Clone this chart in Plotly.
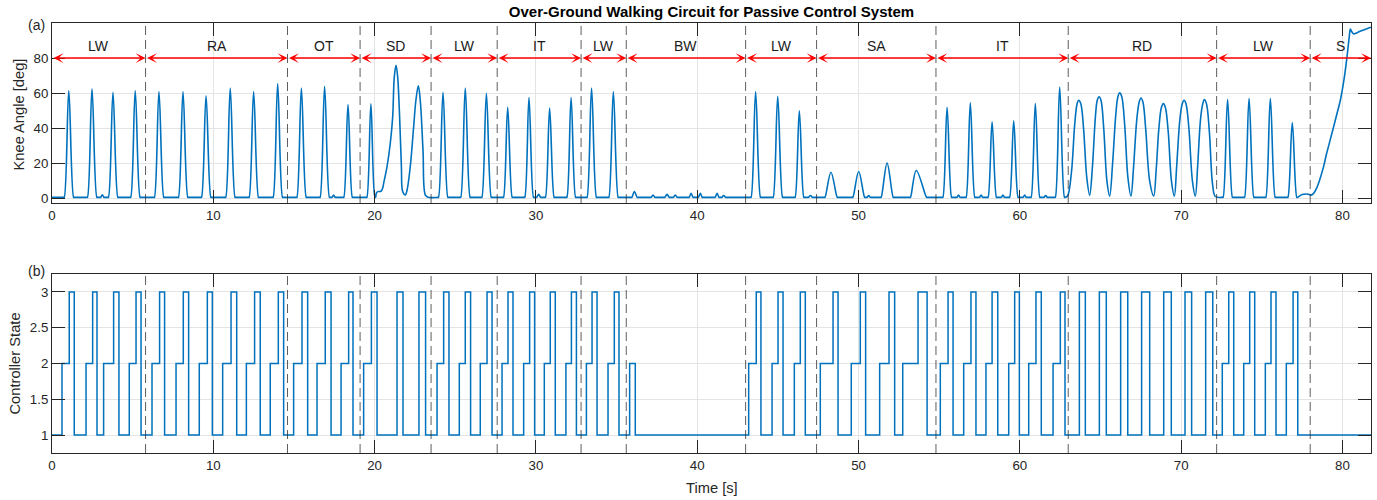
import plotly.graph_objects as go

# ---------------- data ----------------
# phase boundaries [s] and labels
phase_bounds = [0.0, 5.8, 14.6, 19.1, 23.5, 27.6, 32.8, 35.6, 43.0, 47.4, 54.8, 63.0, 72.2, 78.0, 81.77]
phase_labels = ["LW", "RA", "OT", "SD", "LW", "IT", "LW", "BW", "LW", "SA", "IT", "RD", "LW", "S"]
divider_times = phase_bounds[1:-1]

# knee angle: individual strides / small bumps (onset, peak time, peak angle, offset)
stride_on = [0.76, 2.20, 3.02, 3.50, 4.88,
             6.35, 7.84, 9.27, 10.77, 12.22, 13.71,
             15.18, 16.62, 17.36, 18.09,
             19.52,
             23.96, 25.34, 26.65,
             27.99, 29.31, 30.05, 30.59, 31.92,
             33.17, 34.52,
             35.95, 37.14, 38.00, 38.52, 39.50, 40.07, 41.11, 41.52,
             43.34, 44.71, 46.07, 46.90,
             47.92, 49.65, 50.53, 51.40, 53.22,
             55.23, 56.10, 56.67, 57.50, 58.03, 58.85, 59.37, 60.20, 60.70, 61.50, 62.20,
             72.60, 73.93, 75.25, 76.62]
stride_peak_t = [1.04, 2.48, 3.12, 3.78, 5.16,
                 6.63, 8.12, 9.55, 11.05, 12.50, 13.99,
                 15.46, 16.90, 17.46, 18.35,
                 19.77,
                 24.24, 25.62, 26.93,
                 28.25, 29.57, 30.17, 30.85, 32.18,
                 33.45, 34.80,
                 36.10, 37.26, 38.13, 38.64, 39.62, 40.19, 41.23, 41.64,
                 43.62, 44.99, 46.33, 47.02,
                 48.29, 50.01, 50.63, 51.77, 53.58,
                 55.49, 56.20, 56.93, 57.60, 58.28, 58.95, 59.62, 60.30, 60.96, 61.60, 62.47,
                 72.88, 74.21, 75.53, 76.89]
stride_peak_deg = [61.5, 62.5, 2.2, 60.5, 61.5,
                   61.0, 61.0, 58.5, 63.0, 61.0, 65.5,
                   63.0, 64.0, 2.0, 53.5,
                   54.0,
                   60.5, 63.0, 60.0,
                   52.0, 57.5, 2.5, 51.5, 57.5,
                   63.0, 61.0,
                   4.0, 2.0, 2.5, 2.0, 3.0, 3.0, 3.0, 1.7,
                   61.0, 58.3, 50.0, 1.8,
                   15.0, 15.4, 1.7, 20.2, 16.0,
                   52.0, 2.0, 54.5, 2.0, 43.7, 2.0, 44.3, 2.0, 54.1, 1.8, 63.5,
                   56.6, 57.1, 57.1, 43.3]
stride_off = [1.34, 2.78, 3.22, 4.08, 5.46,
              6.93, 8.42, 9.85, 11.35, 12.80, 14.29,
              15.76, 17.20, 17.56, 18.62,
              20.02,
              24.54, 25.92, 27.23,
              28.53, 29.85, 30.29, 31.13, 32.46,
              33.75, 35.10,
              36.28, 37.38, 38.26, 38.76, 39.74, 40.31, 41.35, 41.76,
              43.92, 45.29, 46.61, 47.14,
              48.68, 50.38, 50.73, 52.15, 54.22,
              55.77, 56.30, 57.21, 57.70, 58.55, 59.05, 59.89, 60.40, 61.24, 61.70, 62.77,
              73.18, 74.51, 75.83, 77.17]
knee_base = 0.7

# stair descent detail
sd_t = [20.10, 20.20, 20.40, 20.50, 20.56, 20.77, 20.97, 21.12, 21.22, 21.33, 21.43, 21.55, 21.66,
        21.74, 21.90, 22.01, 22.21, 22.42, 22.56, 22.71, 22.83, 23.00, 23.14, 23.30]
sd_deg = [3.0, 4.0, 4.2, 6.0, 8.7, 18.2, 31.4, 46.5, 69.2, 75.9, 69.2, 46.5, 18.2,
          4.0, 2.1, 4.8, 18.2, 40.9, 56.0, 64.2, 56.0, 27.6, 2.1, 0.8]

# ramp descent detail
rd_t = [62.96, 63.20, 63.40, 63.55, 63.65, 63.78, 63.95, 64.15, 64.33,
        64.50, 64.68, 64.80, 64.91, 65.03, 65.20, 65.40, 65.57,
        65.75, 65.95, 66.08, 66.19, 66.32, 66.50, 66.70, 66.89,
        67.05, 67.25, 67.40, 67.51, 67.63, 67.80, 68.05, 68.30,
        68.45, 68.62, 68.78, 68.90, 69.02, 69.20, 69.40, 69.58,
        69.72, 69.92, 70.07, 70.18, 70.30, 70.48, 70.70, 70.88,
        71.02, 71.20, 71.34, 71.44, 71.57, 71.75, 71.95, 72.12]
rd_deg = [1.5, 15.0, 42.0, 54.0, 56.0, 54.0, 40.0, 12.0, 2.0,
          18.0, 46.0, 56.0, 58.0, 56.0, 40.0, 10.0, 1.5,
          20.0, 48.0, 58.0, 60.2, 58.0, 42.0, 12.0, 1.5,
          18.0, 45.0, 55.0, 57.3, 55.0, 40.0, 10.0, 1.5,
          16.0, 40.0, 52.0, 54.1, 52.0, 38.0, 10.0, 1.5,
          18.0, 45.0, 54.0, 56.0, 54.0, 40.0, 10.0, 1.5,
          18.0, 45.0, 54.0, 56.4, 54.0, 38.0, 8.0, 1.2]

# final stand-up detail
end_t = [77.50, 77.90, 78.05, 78.20, 78.40, 78.60, 78.83, 79.00, 79.20, 79.45, 79.65, 79.87,
         80.10, 80.28, 80.42, 80.49, 80.58, 80.70, 80.90, 81.10, 81.40, 81.77]
end_deg = [2.3, 2.5, 2.0, 2.8, 6.0, 11.0, 18.2, 25.0, 32.0, 40.8, 48.0, 56.0,
           68.0, 80.6, 92.0, 96.5, 95.0, 93.8, 94.5, 95.3, 96.3, 97.6]

# controller state: time of each change and new state
ctrl_time = [0.0,
             0.62, 1.07, 1.38, 2.11, 2.52, 2.79, 3.20, 3.82, 4.15, 4.79, 5.21, 5.52,
             6.20, 6.67, 6.98, 7.69, 8.14, 8.47, 9.13, 9.63, 9.94, 10.58, 11.10, 11.45,
             12.05, 12.56, 12.91, 13.53, 14.03, 14.36,
             14.98, 15.50, 15.85, 16.43, 16.94, 17.30, 17.92, 18.39, 18.66,
             19.32, 19.80, 20.15, 21.39, 21.76, 22.75, 23.16,
             23.87, 24.28, 24.61, 25.25, 25.62, 25.95, 26.55, 26.97, 27.28,
             27.90, 28.27, 28.58, 29.24, 29.61, 29.92, 30.52, 30.89, 31.20, 31.86, 32.20, 32.51,
             33.13, 33.48, 33.79, 34.47, 34.86, 35.15,
             35.81, 36.16,
             43.19, 43.66, 43.95, 44.64, 45.01, 45.32, 46.02, 46.39, 46.70,
             47.63, 48.42, 48.73, 49.55, 50.11, 50.44, 51.31, 51.89, 52.24, 52.74, 53.69, 54.25,
             55.07, 55.55, 55.86, 56.52, 56.97, 57.28, 57.90, 58.28, 58.63,
             59.31, 59.68, 59.97, 60.55, 61.00, 61.33, 62.06, 62.51, 62.80,
             63.69, 64.06, 64.93, 65.36, 66.25, 66.69, 67.55, 68.05, 68.92, 69.39,
             70.24, 70.65, 71.52, 71.96,
             72.55, 72.95, 73.26, 73.88, 74.25, 74.56, 75.22, 75.57, 75.88, 76.52, 76.94, 77.23,
             81.77]
ctrl_state = [1,
              2, 3, 1, 2, 3, 1, 2, 3, 1, 2, 3, 1,
              2, 3, 1, 2, 3, 1, 2, 3, 1, 2, 3, 1,
              2, 3, 1, 2, 3, 1,
              2, 3, 1, 2, 3, 1, 2, 3, 1,
              2, 3, 1, 3, 1, 3, 1,
              2, 3, 1, 2, 3, 1, 2, 3, 1,
              2, 3, 1, 2, 3, 1, 2, 3, 1, 2, 3, 1,
              2, 3, 1, 2, 3, 1,
              2, 1,
              2, 3, 1, 2, 3, 1, 2, 3, 1,
              2, 3, 1, 2, 3, 1, 2, 3, 1, 2, 3, 1,
              2, 3, 1, 2, 3, 1, 2, 3, 1,
              2, 3, 1, 2, 3, 1, 2, 3, 1,
              3, 1, 3, 1, 3, 1, 3, 1, 3, 1,
              3, 1, 3, 1,
              2, 3, 1, 2, 3, 1, 2, 3, 1, 2, 3, 1,
              1]
assert len(ctrl_time) == len(ctrl_state)

x_ticks = [0, 10, 20, 30, 40, 50, 60, 70, 80]
knee_ticks = [0, 20, 40, 60, 80]
state_ticks = [1, 1.5, 2, 2.5, 3]

# ---------------- assemble knee curve ----------------
# a short flat lead-in/lead-out on the baseline keeps the spline from dipping
FLAT = 0.04
pts = [(0.0, knee_base)]
for on, pt, ph, off in zip(stride_on, stride_peak_t, stride_peak_deg, stride_off):
    pts += [(on - FLAT, knee_base), (on, knee_base), (pt, ph), (off, knee_base), (off + FLAT, knee_base)]
pts += list(zip(sd_t, sd_deg)) + list(zip(rd_t, rd_deg)) + list(zip(end_t, end_deg))
pts.sort(key=lambda p: p[0])
knee_t = [p[0] for p in pts]
knee_deg = [p[1] for p in pts]

# ---------------- figure ----------------
FONT = "Liberation Sans, Arial, Helvetica, sans-serif"
TXT = "#262626"
BLUE = "#0072BD"
W, H = 1377, 500
ML, MR, MT, MB = 52, 6, 23, 47
PW = W - ML - MR
PH = H - MT - MB


def py(px):  # pixel y from top -> paper y
    return (H - MB - px) / PH


def pxx(px):  # pixel x -> paper x
    return (px - ML) / PW


fig = go.Figure()
fig.add_trace(go.Scatter(x=knee_t, y=knee_deg, mode="lines",
                         line=dict(color=BLUE, width=1.6, shape="spline", smoothing=1.0),
                         xaxis="x", yaxis="y", showlegend=False, hoverinfo="skip"))
fig.add_trace(go.Scatter(x=ctrl_time, y=ctrl_state, mode="lines",
                         line=dict(color=BLUE, width=1.5, shape="hv"), xaxis="x2", yaxis="y2",
                         showlegend=False, hoverinfo="skip"))

axis_common = dict(showline=True, linecolor=TXT, linewidth=1, mirror="allticks",
                   ticks="inside", ticklen=13, tickcolor=TXT, tickwidth=1,
                   showgrid=True, gridcolor="#e4e4e4", gridwidth=1, zeroline=False,
                   tickfont=dict(family=FONT, size=13.3, color=TXT))

top_dom = [py(203), 1.0]
bot_dom = [0.0, py(274)]
xr = [phase_bounds[0], phase_bounds[-1]]

fig.update_layout(
    width=W, height=H,
    margin=dict(l=ML, r=MR, t=MT, b=MB),
    paper_bgcolor="white", plot_bgcolor="white",
    xaxis=dict(domain=[0, 1], anchor="y", range=xr, tickvals=x_ticks, **axis_common),
    yaxis=dict(domain=top_dom, anchor="x", range=[-2.5, 100], tickvals=knee_ticks, **axis_common),
    xaxis2=dict(domain=[0, 1], anchor="y2", range=xr, tickvals=x_ticks, **axis_common),
    yaxis2=dict(domain=bot_dom, anchor="x2", range=[0.75, 3.25], tickvals=state_ticks, **axis_common),
    title=dict(text="<b>Over-Ground Walking Circuit for Passive Control System</b>",
               x=0.5, xref="paper", xanchor="center", y=1 - 12 / H, yref="container", yanchor="middle",
               font=dict(family=FONT, size=15, color="#000000")),
)

shapes = []
for b in divider_times:
    for xref, yref in (("x", "y domain"), ("x2", "y2 domain")):
        shapes.append(dict(type="line", xref=xref, yref=yref, x0=b, x1=b, y0=0, y1=1,
                           line=dict(color="rgba(40,40,40,0.75)", width=1, dash="9px,5px")))
fig.update_layout(shapes=shapes)

ann = []
for i, lab in enumerate(phase_labels):
    a, b = phase_bounds[i], phase_bounds[i + 1]
    ann.append(dict(x=b, y=80, ax=a, ay=80, xref="x", yref="y", axref="x", ayref="y",
                    text="", showarrow=True, arrowside="end+start",
                    arrowhead=3, startarrowhead=3, arrowsize=1.1, startarrowsize=1.1,
                    arrowwidth=1.5, arrowcolor="#ff0000", standoff=0, startstandoff=0))
    ann.append(dict(x=(a + b) / 2, y=87, xref="x", yref="y", text=lab, showarrow=False,
                    xanchor="center", yanchor="middle",
                    font=dict(family=FONT, size=14, color="#1a1a1a")))

ann += [
    dict(x=pxx(47), y=py(25), xref="paper", yref="paper", text="(a)", showarrow=False,
         xanchor="right", yanchor="middle", font=dict(family=FONT, size=14, color=TXT)),
    dict(x=pxx(47), y=py(271), xref="paper", yref="paper", text="(b)", showarrow=False,
         xanchor="right", yanchor="middle", font=dict(family=FONT, size=14, color=TXT)),
    dict(x=pxx(18.5), y=py(115), xref="paper", yref="paper", text="Knee Angle [deg]", showarrow=False,
         textangle=-90, xanchor="center", yanchor="middle", font=dict(family=FONT, size=14.7, color=TXT)),
    dict(x=pxx(14.5), y=py(364), xref="paper", yref="paper", text="Controller State", showarrow=False,
         textangle=-90, xanchor="center", yanchor="middle", font=dict(family=FONT, size=14.7, color=TXT)),
    dict(x=pxx(711.5), y=py(488), xref="paper", yref="paper", text="Time [s]", showarrow=False,
         xanchor="center", yanchor="middle", font=dict(family=FONT, size=14.7, color=TXT)),
]
fig.update_layout(annotations=ann)

fig.write_html("out.html")
